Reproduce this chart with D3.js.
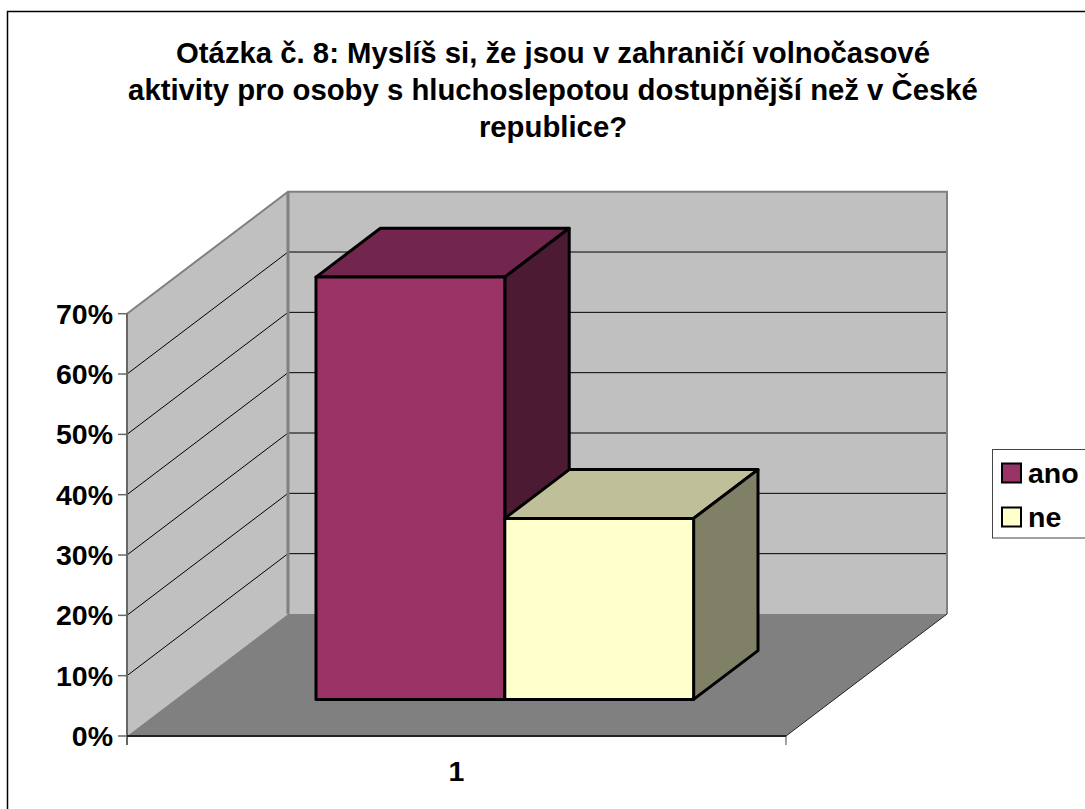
<!DOCTYPE html>
<html>
<head>
<meta charset="utf-8">
<script src="https://cdn.jsdelivr.net/npm/d3@7"></script>
<style>
html, body { margin: 0; padding: 0; background: #fff; overflow: hidden; }
text { font-family: "Liberation Sans", Arial, sans-serif; font-weight: bold; fill: #000; }
</style>
</head>
<body>
<div class="chart"></div>
<script>
var titleLines = [
  "Otázka č. 8: Myslíš si, že jsou v zahraničí volnočasové",
  "aktivity pro osoby s hluchoslepotou dostupnější než v České",
  "republice?"
];
var categories = ["1"];
var seriesNames = ["ano", "ne"];
var seriesValues = [0.7, 0.3];
var yTicks = [0, 0.1, 0.2, 0.3, 0.4, 0.5, 0.6, 0.7];
var frontColors = ["#993366", "#ffffcc"];
var topColors = ["#73264d", "#bfbf99"];
var sideColors = ["#4d1a33", "#808066"];

var width = 1085,
    height = 809;

var svg = d3.select(".chart").append("svg")
    .attr("width", width)
    .attr("height", height)
    .style("display", "block");

// outer frame, right and bottom edges run off the page
svg.append("path")
    .attr("d", "M7.5,820V11.5H1100")
    .attr("fill", "none")
    .attr("stroke", "#000")
    .attr("stroke-width", 1.5);

svg.selectAll(".title")
    .data(titleLines)
  .enter().append("text")
    .attr("class", "title")
    .attr("x", 553)
    .attr("y", function(d, i) { return 63 + i * 37; })
    .attr("text-anchor", "middle")
    .style("font-size", "29.3px")
    .text(function(d) { return d; });

var y = d3.scaleLinear().domain([0, 0.7]).range([736, 313.7]);
var x = d3.scaleBand().domain(categories).range([127, 786]);
var bars = d3.scaleBand().domain(seriesNames).range([x.bandwidth() * 0.2135, x.bandwidth() * 0.7865]);

// depth 0 = front of floor, 1 = back wall
var depthX = d3.scaleLinear().domain([0, 1]).range([0, 161]);
var depthY = d3.scaleLinear().domain([0, 1]).range([0, -122]);

var line = d3.line();
function pt(px, v, z) { return [px + depthX(z), y(v) + depthY(z)]; }
function poly(pts) { return line(pts) + "Z"; }

var left = x.range()[0],
    right = x.range()[1],
    vMax = y.domain()[1];

// walls
svg.append("path")
    .attr("d", poly([pt(left, 0, 1), pt(right, 0, 1), pt(right, vMax, 1), pt(left, vMax, 1)]))
    .attr("fill", "#c0c0c0");
svg.append("path")
    .attr("d", poly([pt(left, 0, 0), pt(left, 0, 1), pt(left, vMax, 1), pt(left, vMax, 0)]))
    .attr("fill", "#c0c0c0");

// gridlines
svg.selectAll(".grid")
    .data(yTicks.slice(1, -1))
  .enter().append("path")
    .attr("class", "grid")
    .attr("fill", "none")
    .attr("stroke", "#000")
    .attr("stroke-width", 1)
    .attr("d", function(d) { return line([pt(left, d, 0), pt(left, d, 1), pt(right, d, 1)]); });

// wall edges
svg.append("path")
    .attr("d", line([pt(left, vMax, 0), pt(left, vMax, 1), pt(right, vMax, 1), pt(right, 0, 1)]))
    .attr("fill", "none")
    .attr("stroke", "#808080")
    .attr("stroke-width", 2);
svg.append("path")
    .attr("d", line([pt(left, 0, 1), pt(left, vMax, 1)]))
    .attr("fill", "none")
    .attr("stroke", "#808080")
    .attr("stroke-width", 3);

// floor
svg.append("path")
    .attr("d", poly([pt(left, 0, 0), pt(right, 0, 0), pt(right, 0, 1), pt(left, 0, 1)]))
    .attr("fill", "#808080");
svg.append("path")
    .attr("d", line([pt(right, 0, 1), pt(right, 0, 0)]))
    .attr("fill", "none")
    .attr("stroke", "#222")
    .attr("stroke-width", 1);

// bars, back to front order left to right
var z0 = 0.3, z1 = 0.7;
seriesNames.forEach(function(name, i) {
  var x0 = x(categories[0]) + bars(name),
      x1 = x0 + bars.bandwidth(),
      v = seriesValues[i];
  var g = svg.append("g")
      .attr("stroke", "#000")
      .attr("stroke-width", 3)
      .attr("stroke-linejoin", "round");
  g.append("path")
      .attr("d", poly([pt(x0, v, z0), pt(x1, v, z0), pt(x1, v, z1), pt(x0, v, z1)]))
      .attr("fill", topColors[i]);
  g.append("path")
      .attr("d", poly([pt(x1, 0, z0), pt(x1, 0, z1), pt(x1, v, z1), pt(x1, v, z0)]))
      .attr("fill", sideColors[i]);
  g.append("path")
      .attr("d", poly([pt(x0, 0, z0), pt(x1, 0, z0), pt(x1, v, z0), pt(x0, v, z0)]))
      .attr("fill", frontColors[i]);
});

// value axis
svg.append("path")
    .attr("d", line([[left, y(vMax)], [left, y(0) + 9]]))
    .attr("fill", "none")
    .attr("stroke", "#666")
    .attr("stroke-width", 2);
svg.selectAll(".tick-mark")
    .data(yTicks)
  .enter().append("line")
    .attr("class", "tick-mark")
    .attr("x1", left - 9)
    .attr("x2", left)
    .attr("y1", function(d) { return y(d); })
    .attr("y2", function(d) { return y(d); })
    .attr("stroke", "#666")
    .attr("stroke-width", 1.5);
svg.selectAll(".y-label")
    .data(yTicks)
  .enter().append("text")
    .attr("class", "y-label")
    .attr("x", 113)
    .attr("y", function(d) { return y(d) + 10; })
    .attr("text-anchor", "end")
    .style("font-size", "28.5px")
    .text(d3.format(".0%"));

// category axis
svg.append("path")
    .attr("d", line([[left, y(0)], [right, y(0)]]))
    .attr("fill", "none")
    .attr("stroke", "#222")
    .attr("stroke-width", 2);
svg.append("line")
    .attr("x1", right).attr("x2", right)
    .attr("y1", y(0)).attr("y2", y(0) + 9)
    .attr("stroke", "#444")
    .attr("stroke-width", 1);
svg.selectAll(".x-label")
    .data(categories)
  .enter().append("text")
    .attr("class", "x-label")
    .attr("x", function(d) { return x(d) + x.bandwidth() / 2; })
    .attr("y", 781)
    .attr("text-anchor", "middle")
    .style("font-size", "28.5px")
    .text(function(d) { return d; });

// legend
svg.append("rect")
    .attr("x", 992.5).attr("y", 449.5)
    .attr("width", 110).attr("height", 88.5)
    .attr("fill", "#fff")
    .attr("stroke", "#444")
    .attr("stroke-width", 1);
var legend = svg.selectAll(".legend")
    .data(seriesNames)
  .enter().append("g")
    .attr("class", "legend")
    .attr("transform", function(d, i) { return "translate(0," + (473 + i * 44) + ")"; });
legend.append("rect")
    .attr("x", 1002).attr("y", -9.5)
    .attr("width", 19).attr("height", 19)
    .attr("fill", function(d, i) { return frontColors[i]; })
    .attr("stroke", "#000")
    .attr("stroke-width", 2);
legend.append("text")
    .attr("x", 1028)
    .attr("y", 10)
    .style("font-size", "28.5px")
    .text(function(d) { return d; });
</script>
</body>
</html>
